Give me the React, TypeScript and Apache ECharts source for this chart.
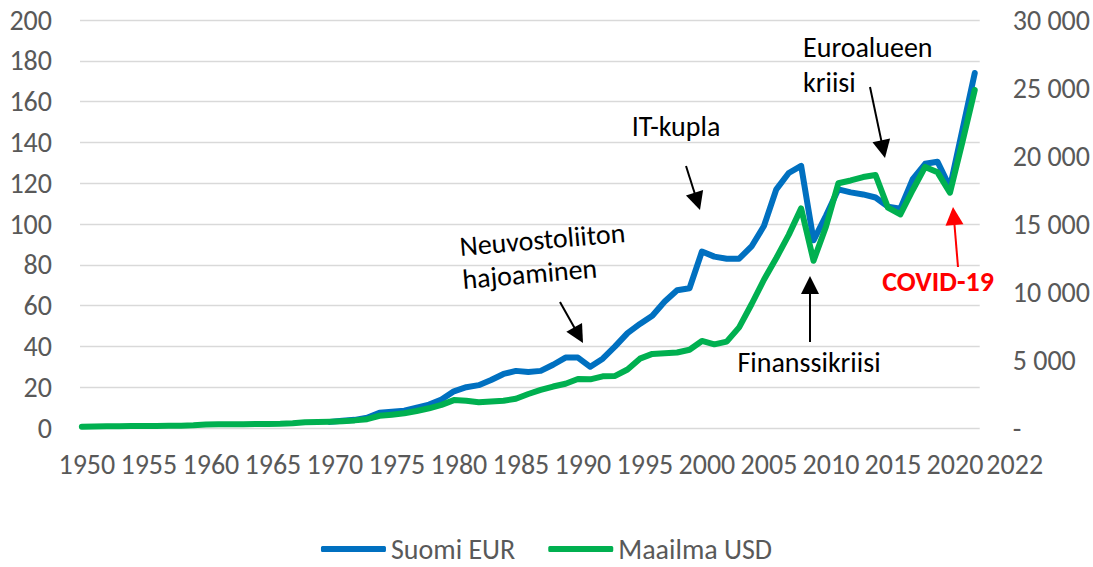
import React, { useEffect, useRef } from 'react';
import * as echarts from 'echarts';

const FONT = 'Carlito, Lato, sans-serif';
const AXIS_COLOR = '#595959';

const seriesNames = ['Suomi EUR', 'Maailma USD'];
const seriesColors = ['#0070C0', '#00B050'];

const firstSuomiYear = 1970;
const suomiEur = [
  3, 3.5, 4, 5, 7.5, 8, 8.5, 10, 11.5, 14,
  18, 20, 21, 23.5, 26.5, 28, 27.5, 28, 31, 34.5,
  34.5, 30, 34, 40, 46.5, 51, 55, 62, 67.5, 68.5,
  86.5, 84, 83, 83, 89, 99, 117, 125, 128.5, 92,
  104, 117, 115.5, 114.5, 113, 108.5, 107.5, 122, 129.5, 130.5,
  118, 146, 174,
];

const firstMaailmaYear = 1950;
const maailmaUsd = [
  100, 110, 120, 130, 140, 150, 150, 160, 170, 200,
  260, 270, 270, 280, 290, 300, 310, 350, 420, 440,
  460, 500, 560, 650, 900, 980, 1080, 1250, 1450, 1700,
  2050, 2000, 1900, 1950, 2000, 2150, 2500, 2800, 3050, 3250,
  3600, 3580, 3800, 3830, 4300, 5100, 5450, 5500, 5550, 5750,
  6400, 6150, 6350, 7400, 9100, 10900, 12500, 14200, 16150, 12300,
  14800, 18000, 18200, 18450, 18600, 16200, 15700, 17500, 19200, 18800,
  17300, 21000, 24850,
];

const xTickYears = [1950, 1955, 1960, 1965, 1970, 1975, 1980, 1985, 1990, 1995, 2000, 2005, 2010, 2015, 2020, 2022];

function toPairs(startYear: number, values: number[]) {
  return values.map((v, i) => [startYear + i, v]);
}

function arrow(x1: number, y1: number, x2: number, y2: number, color: string) {
  const dx = x2 - x1;
  const dy = y2 - y1;
  const len = Math.hypot(dx, dy);
  const ux = dx / len;
  const uy = dy / len;
  const hl = 18;
  const hw = 9;
  const bx = x2 - ux * hl;
  const by = y2 - uy * hl;
  return [
    {
      type: 'line',
      silent: true,
      z: 100,
      shape: { x1, y1, x2: bx + ux * 2, y2: by + uy * 2 },
      style: { stroke: color, lineWidth: 2 },
    },
    {
      type: 'polygon',
      silent: true,
      z: 100,
      shape: {
        points: [
          [x2, y2],
          [bx - uy * hw, by + ux * hw],
          [bx + uy * hw, by - ux * hw],
        ],
      },
      style: { fill: color },
    },
  ];
}

function annotationText(text: string, x: number, y: number, align: string, vAlign: string, extra: any = {}) {
  const { fill, fontSize, fontWeight, lineHeight, ...rest } = extra;
  return {
    type: 'text',
    silent: true,
    z: 100,
    x,
    y,
    ...rest,
    style: {
      text,
      fill: fill || '#000000',
      fontSize: fontSize || 28,
      fontWeight: fontWeight || 'normal',
      fontFamily: FONT,
      align,
      verticalAlign: vAlign,
      lineHeight: lineHeight || 34,
    },
  };
}

export default function App() {
  const ref = useRef<HTMLDivElement>(null);

  useEffect(() => {
    if (!ref.current) return;
    const chart = echarts.init(ref.current, null, { renderer: 'svg' });

    const labelRich = {
      a: { fontSize: 28, fontFamily: FONT, color: AXIS_COLOR, padding: [0, 0, 0, 10] },
      last: { fontSize: 28, fontFamily: FONT, color: AXIS_COLOR, padding: [0, 0, 0, 80] },
    };

    chart.setOption({
      animation: false,
      backgroundColor: '#ffffff',
      grid: { left: 80, right: 113, top: 20, bottom: 139, containLabel: false },
      legend: {
        data: seriesNames,
        left: 'center',
        top: 535,
        padding: 0,
        icon: 'roundRect',
        itemWidth: 65,
        itemHeight: 6,
        itemGap: 33,
        textStyle: { fontSize: 28, lineHeight: 28, color: AXIS_COLOR, fontFamily: FONT },
      },
      xAxis: {
        type: 'value',
        min: 1949.85,
        max: 2022.4,
        splitLine: { show: false },
        axisLine: { show: false },
        axisTick: { show: false },
        axisLabel: {
          customValues: xTickYears,
          margin: 22,
          fontSize: 28,
          fontFamily: FONT,
          color: AXIS_COLOR,
          formatter: (v: number) => (v === 2022 ? `{last|${v}}` : `{a|${v}}`),
          rich: labelRich,
        },
      },
      yAxis: [
        {
          type: 'value',
          min: 0,
          max: 200,
          interval: 20,
          position: 'left',
          axisLine: { show: false },
          axisTick: { show: false },
          axisLabel: { margin: 28, fontSize: 28, fontFamily: FONT, color: AXIS_COLOR },
          splitLine: { show: true, lineStyle: { color: '#D9D9D9', width: 1.3 } },
        },
        {
          type: 'value',
          min: 0,
          max: 30000,
          interval: 5000,
          position: 'right',
          axisLine: { show: false },
          axisTick: { show: false },
          splitLine: { show: false },
          axisLabel: {
            margin: 33,
            fontSize: 28,
            fontFamily: FONT,
            color: AXIS_COLOR,
            formatter: (v: number) => (v === 0 ? '-' : `${Math.floor(v / 1000)} 000`),
          },
        },
      ],
      series: [
        {
          name: seriesNames[0],
          type: 'line',
          yAxisIndex: 0,
          data: toPairs(firstSuomiYear, suomiEur),
          showSymbol: false,
          symbol: 'none',
          color: seriesColors[0],
          lineStyle: { width: 6, color: seriesColors[0], cap: 'round', join: 'round' },
        },
        {
          name: seriesNames[1],
          type: 'line',
          yAxisIndex: 1,
          data: toPairs(firstMaailmaYear, maailmaUsd),
          showSymbol: false,
          symbol: 'none',
          color: seriesColors[1],
          lineStyle: { width: 6, color: seriesColors[1], cap: 'round', join: 'round' },
        },
      ],
      graphic: [
        annotationText('Neuvostoliiton\nhajoaminen', 461, 263, 'left', 'middle', { rotation: 0.085, lineHeight: 33 }),
        ...arrow(560, 302, 583, 343, '#000000'),
        annotationText('IT-kupla', 676, 126, 'center', 'middle'),
        ...arrow(686, 166, 700, 210, '#000000'),
        annotationText('Euroalueen\nkriisi', 803, 30, 'left', 'top', { lineHeight: 35 }),
        ...arrow(870, 87, 885, 158, '#000000'),
        annotationText('Finanssikriisi', 809, 362, 'center', 'middle'),
        ...arrow(810, 342, 810, 276, '#000000'),
        annotationText('COVID-19', 938, 281, 'center', 'middle', { fill: '#FF0000', fontWeight: 'bold' }),
        ...arrow(958, 267, 953, 207, '#FF0000'),
      ],
    });

    return () => chart.dispose();
  }, []);

  return (
    <div
      ref={ref}
      style={{ position: 'fixed', left: 0, top: 0, width: 1093, height: 567, background: '#fff' }}
    />
  );
}
